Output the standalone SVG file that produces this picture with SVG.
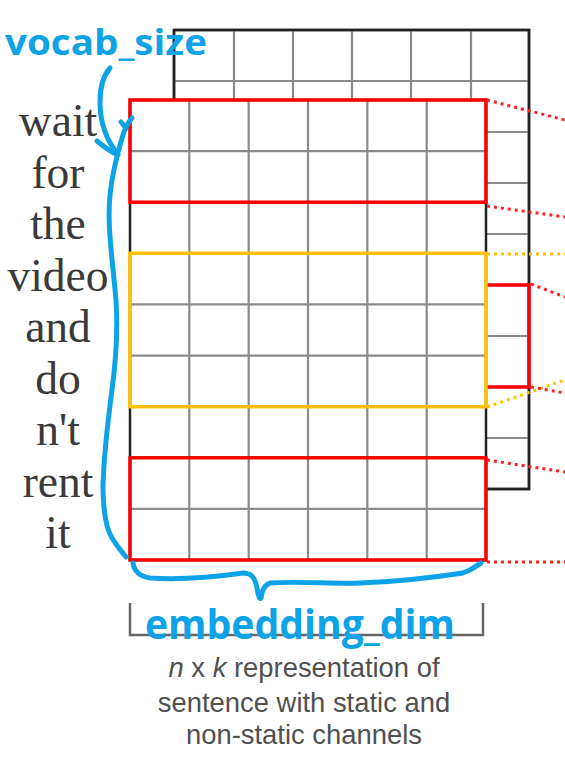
<svg xmlns="http://www.w3.org/2000/svg" width="565" height="768" viewBox="0 0 565 768">
<style>
.grid{stroke:#8a8a8a;stroke-width:2.2;fill:none}
.edge{stroke:#222;stroke-width:2.5;fill:none}
.red{stroke:#ff0000;stroke-width:3.5;fill:none}
.yel{stroke:#ffc000;stroke-width:3.5;fill:none}
.dotr{stroke:#ff2020;stroke-width:3;stroke-dasharray:3 4;fill:none}
.doty{stroke:#ffc000;stroke-width:3;stroke-dasharray:3 4;fill:none}
.word{font-family:"Liberation Serif","Times New Roman",serif;font-size:45.5px;fill:#3a3a3a;text-anchor:middle}
.blue{stroke:#0ea2e6;stroke-width:5;fill:none;stroke-linecap:round;stroke-linejoin:round}
.btxt{font-family:"Open Sans","Noto Sans",sans-serif;font-weight:bold;fill:#0ea2e6}
.cap{font-family:"Liberation Sans",Arial,sans-serif;font-size:27.4px;fill:#505050;text-anchor:middle}
</style>
<rect width="565" height="768" fill="#fff"/>
<g id="back-matrix">
<rect x="174" y="30" width="355" height="459" fill="#fff" class="edge"/>
<path class="grid" d="M234,30V100M293,30V100M352,30V100M411,30V100M471,30V100M174,81H529M486,132H529M486,183H529M486,234H529M486,336H529M486,438H529"/>
<rect x="174" y="30" width="355" height="459" class="edge"/>
<path class="red" d="M486,285H529V387H486"/>
</g>
<g id="front-matrix">
<rect x="130" y="100" width="356" height="460" fill="#fff"/>
<path class="grid" d="M189.3,100V560M248.7,100V560M308,100V560M367.3,100V560M426.7,100V560M130,151.1H486M130,202.2H486M130,253.3H486M130,304.4H486M130,355.6H486M130,406.7H486M130,457.8H486M130,508.9H486"/>
<rect x="130" y="100" width="356" height="460" class="edge"/>
<rect x="130" y="100" width="356" height="102.2" class="red"/>
<rect x="130" y="253.3" width="356" height="153.4" class="yel"/>
<rect x="130" y="457.8" width="356" height="102.2" class="red"/>
</g>
<g id="connectors">
<path class="dotr" d="M487,100L565,120"/>
<path class="dotr" d="M487,206L565,217"/>
<path class="doty" d="M487,254L565,254"/>
<path class="dotr" d="M531,284L565,297"/>
<path class="doty" d="M487,407L565,380"/>
<path class="dotr" d="M531,387L565,393"/>
<path class="dotr" d="M487,460L565,472"/>
<path class="dotr" d="M487,562L565,562"/>
</g>
<g id="words">
<text class="word" x="58" y="136">wait</text>
<text class="word" x="58" y="187.5">for</text>
<text class="word" x="58" y="239">the</text>
<text class="word" x="58" y="290.5">video</text>
<text class="word" x="58" y="342">and</text>
<text class="word" x="58" y="393.5">do</text>
<text class="word" x="58" y="445">n't</text>
<text class="word" x="58" y="496.5">rent</text>
<text class="word" x="58" y="548">it</text>
</g>
<g id="bracket">
<path d="M130,603V635H483V603" stroke="#666" stroke-width="2.5" fill="none"/>
</g>
<g id="annotations">
<path class="blue" d="M110,68C103,76 100,88 100,102C100,120 105,138 117,153"/>
<path class="blue" d="M97,141C103,146 109,151 118,155"/>
<path class="blue" d="M132,118C128,122 125,128 122,138C117,155 112,175 110,195C107,225 112,255 116,300C118,330 116,360 112,390C108,420 104,455 103,485C103,510 106,528 112,538C117,546 122,552 126,557"/>
<path class="blue" d="M121,122L126,128"/>
<path class="blue" d="M133,563C134,570 138,576 150,578C180,580 215,577 243,573C252,573 255,578 257,588C258,596 260,600 261,598C262,592 263,586 270,583C300,581 330,584 360,583C395,582 430,578 463,573C472,570 476,566 481,563"/>
<text class="btxt" x="5" y="55" font-size="36" textLength="202" lengthAdjust="spacingAndGlyphs">vocab_size</text>
<text class="btxt" x="145" y="639" font-size="42" textLength="310" lengthAdjust="spacingAndGlyphs">embedding_dim</text>
</g>
<g id="caption">
<text class="cap" x="304" y="677"><tspan font-style="italic">n</tspan> x <tspan font-style="italic">k</tspan> representation of</text>
<text class="cap" x="304" y="712">sentence with static and</text>
<text class="cap" x="304" y="744">non-static channels</text>
</g>
</svg>
